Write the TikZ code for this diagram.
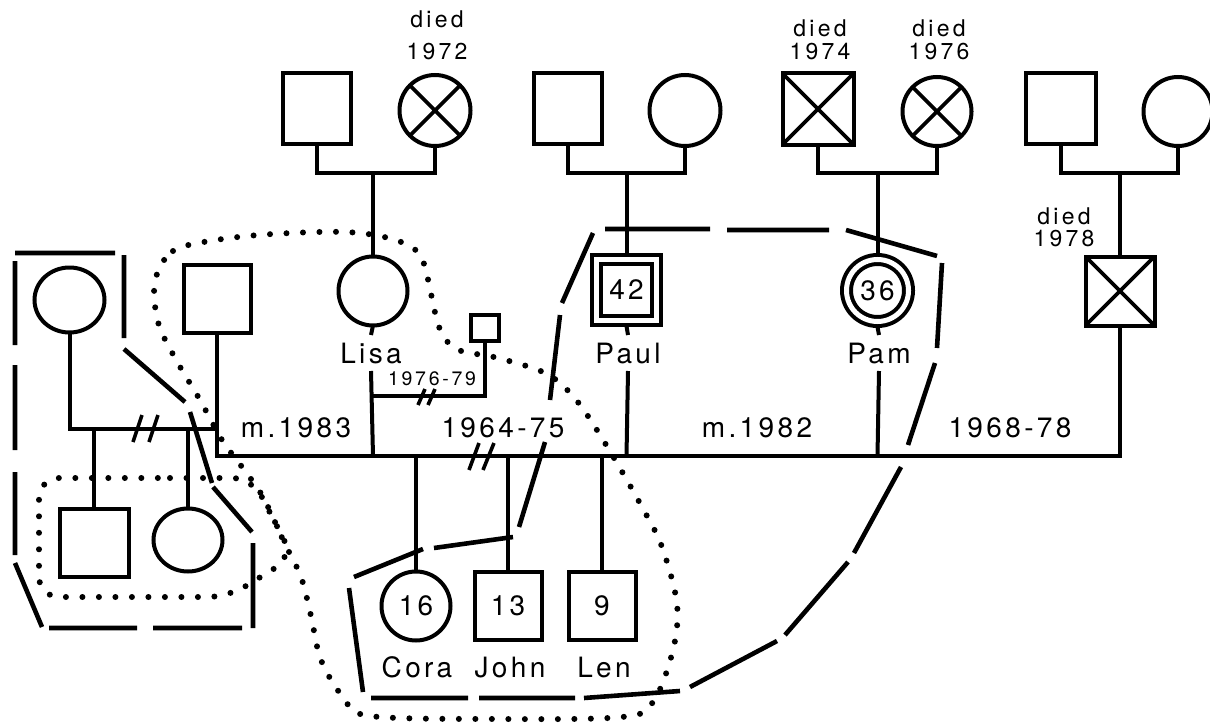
\documentclass[tikz,border=0pt]{standalone}
\usepackage{fontspec}
\setmainfont{TeX Gyre Heros}
\newfontfamily\labfam{TeX Gyre Heros}[LetterSpace=12]
\newfontfamily\smallfam{TeX Gyre Heros}[LetterSpace=14]
\usetikzlibrary{shapes.geometric}
\newcommand\fLab{\labfam\fontsize{28}{30}\selectfont}
\newcommand\fDied{\smallfam\fontsize{23}{23}\selectfont}
\newcommand\fDiedT{\smallfam\fontsize{23}{22}\selectfont}
\newcommand\fYear{\smallfam\fontsize{19.5}{20}\selectfont}
\begin{document}
\begin{tikzpicture}[x=1pt,y=-1pt, line width=4pt,
  every node/.style={outer sep=0pt, inner sep=0pt},
  sq/.style={draw, rectangle, minimum width=68pt, minimum height=70pt, font=\fLab},
  ci/.style={draw, circle, minimum size=70pt, font=\fLab},
  el/.style={draw, ellipse, font=\fLab},
  xcross/.style={path picture={\draw[line width=3.6pt]
     (path picture bounding box.north west) -- (path picture bounding box.south east)
     (path picture bounding box.north east) -- (path picture bounding box.south west);}},
  lab/.style={font=\fLab, text height=20pt, text depth=0pt, inner ysep=8pt},
  txt/.style={font=\fLab, anchor=base},
  died/.style={font=\fDied, align=center, anchor=south},
  slash/.style={line width=3.6pt},
  dsh/.style={line width=4.6pt},
  dots/.style={line width=6pt, line cap=round, dash pattern=on 0pt off 16.5pt}
]
\useasboundingbox (0,0) rectangle (1210,725);

% ---------- top generation ----------
\node[sq] (A1) at (317,108.5) {};
\node[ci, xcross, minimum size=71pt] (A2) at (435,110.5) {};
\node[sq] (B1) at (567.5,108.5) {};
\node[ci, minimum size=71pt] (B2) at (685,110.5) {};
\node[sq, xcross, minimum width=71pt, minimum height=71pt] (C1) at (818,109) {};
\node[ci, xcross, minimum size=69pt] (C2) at (937,111.5) {};
\node[sq, minimum width=70pt] (D1) at (1060.5,108.5) {};
\node[ci, minimum size=69pt] (D2) at (1178,111.5) {};

\node[died] (t72) at (437,60) {died\\[9pt]1972};
\node[died] (t74) at (820,60) {died\\1974};
\node[died] (t76) at (939,60) {died\\1976};
\node[died, font=\fDiedT] (t78) at (1064,247) {died\\1978};

% ---------- middle generation ----------
\node[el, minimum width=70pt, minimum height=65pt] (W) at (69.5,300) {};
\node[sq, minimum width=67pt, minimum height=68pt] (M) at (217,298.5) {};
\node[ci, minimum size=69pt] (Lisa) at (373,291) {};
\node[sq, minimum width=28pt, minimum height=26pt] (S) at (484.5,327.5) {};
\node[sq, double, double distance=5pt, minimum width=60pt, minimum height=61pt, outer sep=5.5pt] (Paul) at (626.5,290) {42};
\node[ci, double, double distance=5pt, minimum size=62pt, outer sep=5.5pt] (Pam) at (877.5,290.5) {36};
\node[sq, xcross, minimum width=69pt, minimum height=69pt] (D3) at (1120,291) {};

\node[lab] (LisaL) at (371,353) {Lisa};
\node[lab] (PaulL) at (628,353) {Paul};
\node[lab] (PamL) at (879,353) {Pam};

% ---------- children ----------
\node[sq, minimum width=69pt, minimum height=68pt] (K1) at (94,542.5) {};
\node[el, minimum width=69pt, minimum height=63pt] (K2) at (188,540) {};
\node[ci, minimum size=69pt] (Cora) at (416,606) {16};
\node[sq, minimum width=67pt, minimum height=68pt] (John) at (508,605.5) {13};
\node[sq, minimum width=67pt, minimum height=68pt] (Len) at (602,605.5) {9};

\node[txt] (CoraL) at (417,677) {Cora};
\node[txt] (JohnL) at (510,677) {John};
\node[txt] (LenL) at (604,677) {Len};

% ---------- relationship labels ----------
\node[txt] (m83) at (296,437) {m.1983};
\node[txt] (y6475) at (503,437) {1964-75};
\node[txt] (m82) at (757,437) {m.1982};
\node[txt] (y6878) at (1010,437) {1968-78};
\node[txt, font=\fYear] (y7679) at (432,385) {1976-79};

% ---------- junctions ----------
\coordinate (jA) at (373,173);
\coordinate (jB) at (626.5,173);
\coordinate (jC) at (877.5,173);
\coordinate (jD) at (1120,173);
\coordinate (jLisa) at (373,456);
\coordinate (jPaul) at (626.5,456);
\coordinate (jPam) at (877.5,456);
\coordinate (jD3) at (1120,456);
\coordinate (j79) at (373,396);
\coordinate (jM) at (217,429);

% ---------- connectors ----------
\draw (A1.south) |- (jA) -| (A2.south);
\draw (jA) -- (Lisa.north);
\draw (B1.south) |- (jB) -| (B2.south);
\draw (jB) -- (Paul.north);
\draw (C1.south) |- (jC) -| (C2.south);
\draw (jC) -- (Pam.north);
\draw (D1.south) |- (jD) -| (D2.south);
\draw (jD) -- (D3.north);

\draw (M.south) |- (jD3) -- (D3.south);
\draw (Lisa.south) -- (LisaL.north);
\draw (LisaL.south) -- (jLisa);
\draw (j79) -| (S.south);
\draw (Paul.south) -- (PaulL.north);
\draw (PaulL.south) -- (jPaul);
\draw (Pam.south) -- (PamL.north);
\draw (PamL.south) -- (jPam);

\draw (Cora.north) -- (Cora.north |- jLisa);
\draw (John.north) -- (John.north |- jLisa);
\draw (Len.north) -- (Len.north |- jLisa);

\draw (W.south) |- (jM);
\draw (K1.north) -- (K1.north |- jM);
\draw (K2.north) -- (K2.north |- jM);

% ---------- divorce slashes ----------
\draw[slash] (133,442) -- (142,415) (149,442) -- (158,415);
\draw[slash] (418,405) -- (425,389) (428,405) -- (435,389);
\draw[slash] (469,470) -- (479,443) (483,470) -- (494,443);

% ---------- dashed household boundaries ----------
\draw[dsh] (15,253) -- (115,253)
  (124,255) -- (124,338)
  (124,349) -- (185,402)
  (190,412) -- (212,483)
  (213,487) -- (252,532)
  (253,543) -- (253,628)
  (242,628) -- (153,628)
  (137,628) -- (49,628)
  (42,627) -- (15,563)
  (15,555) -- (15,472)
  (15,450) -- (15,365)
  (15,345) -- (15,261);

\draw[dsh] (605,229) -- (710,229)
  (727,230) -- (829,230)
  (846,230) -- (937,256)
  (942,263) -- (937,348)
  (935,363) -- (908,445)
  (901,467) -- (854,553)
  (848,562) -- (785,635)
  (777,641) -- (690,687)
  (680,691) -- (584,698)
  (575,698) -- (479,698)
  (468,698) -- (371,698)
  (363,692) -- (349,588)
  (354,577) -- (423,549)
  (434,548) -- (513,537)
  (519,527) -- (545,442)
  (550,400) -- (560,315)
  (562,303) -- (593,233);

% ---------- dotted boundaries ----------
\draw[dots, rounded corners=20pt] (150,478) -- (252,478) -- (293,557) -- (228,597) -- (39,597) -- (39,478) -- cycle;

\draw[dots] plot[smooth cycle, tension=0.55] coordinates {
  (155,281) (173,251) (216,240) (273,234) (345,232) (392,239) (420,255)
  (432,298) (439,327) (456,349) (498,358) (547,374) (577,401) (608,448)
  (642,507) (662,547) (677,604) (673,650) (653,702) (622,717) (500,719)
  (370,716) (343,697) (321,660) (311,616) (301,577) (284,542) (263,497)
  (242,467) (222,440) (200,400) (175,358) (158,322)};
\end{tikzpicture}
\end{document}
